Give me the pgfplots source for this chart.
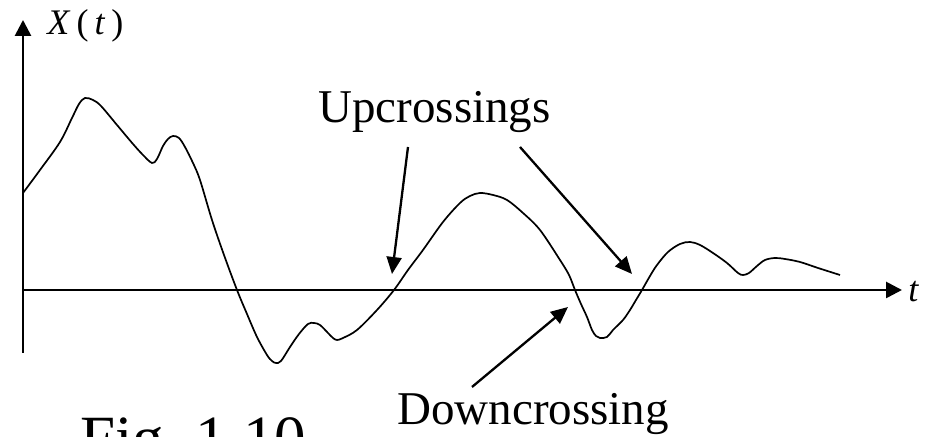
\documentclass[border=0pt]{standalone}
\usepackage{pgfplots}
\pgfplotsset{compat=1.18}
\usepackage{fontspec}
\setmainfont{Liberation Serif}
\usetikzlibrary{arrows.meta}

% Sample path of the process X(t)
\pgfplotstableread{
t    X
0    97
17   120
37   148
49   172
56   186
62   192
70   190
78   184
94   165
110  146
120  135
129  127
134  131
140  144
145  151
150  154
156  152
162  143
170  127
177  110
189  70
201  35
214  0
224  -24
234  -47
244  -65
249  -71
253  -73
258  -71
267  -57
276  -44
285  -34
291  -33
297  -35
305  -43
310  -48
314  -50
320  -48
334  -40
354  -20
371  0
385  20
400  40
420  68
437  87
447  94
457  97
470  95
484  90
500  77
517  60
537  30
546  15
552  0
558  -14
564  -27
569  -40
573  -46
577  -48
584  -47
590  -40
600  -30
607  -20
613  -10
619  0
627  14
634  25
645  38
657  46
667  48
677  45
690  37
704  27
715  17
720  15
726  17
734  24
742  30
752  32
762  31
777  28
795  22
817  15
}\pathdata

\begin{document}
\begin{tikzpicture}
\useasboundingbox (0,0) rectangle (463.5pt,218.5pt);
\clip (0,0) rectangle (463.5pt,218.5pt);
\begin{axis}[
  scale only axis,
  width=463.5pt, height=218.5pt,
  xmin=-23, xmax=904, ymin=-147, ymax=290,
  hide axis, clip=false,
]
% coordinate axes
\draw[line width=1.35pt, -{Triangle[length=8pt,width=8pt]}]
  (axis cs:0,-63) -- (axis cs:0,270);
\draw[line width=1.35pt, -{Triangle[length=8pt,width=8pt]}]
  (axis cs:0,0) -- (axis cs:879,0);
\node[anchor=base west, inner sep=0pt, font=\fontsize{18}{20}\selectfont]
  at (axis cs:24,255) {\textit{X}\,(\,\textit{t}\,)};
\node[anchor=base west, inner sep=0pt, font=\fontsize{18}{20}\selectfont]
  at (axis cs:885,-12) {\textit{t}};

% the sample path
\addplot[black, line width=0.85pt, smooth, tension=0.55, no markers]
  table[x=t, y=X] {\pathdata};

% annotations
\node[anchor=base west, inner sep=0pt, font=\fontsize{23.5}{28}\selectfont]
  at (axis cs:295,167) {Upcrossings};
\draw[line width=1.15pt, -{Triangle[length=8.5pt,width=7.5pt]}]
  (axis cs:385,143) -- (axis cs:369,16);
\draw[line width=1.15pt, -{Triangle[length=8.5pt,width=7.5pt]}]
  (axis cs:497,143) -- (axis cs:609,16);
\draw[line width=1.15pt, -{Triangle[length=8.5pt,width=7.5pt]}]
  (axis cs:449,-97) -- (axis cs:545,-17);
\node[anchor=base west, inner sep=0pt, font=\fontsize{23.5}{28}\selectfont]
  at (axis cs:374,-135) {Downcrossing};
\node[anchor=base west, inner sep=0pt, font=\fontsize{31.5}{36}\selectfont]
  at (axis cs:57,-170) {Fig.~1.10};
\end{axis}
\end{tikzpicture}
\end{document}
